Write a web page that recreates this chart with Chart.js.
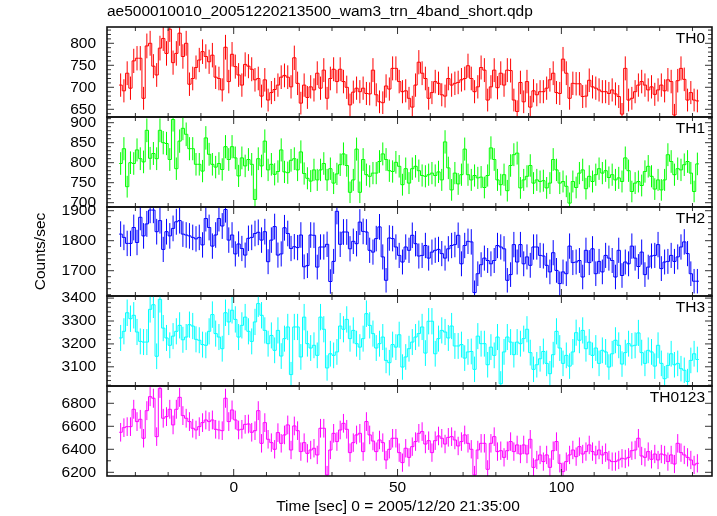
<!DOCTYPE html>
<html>
<head>
<meta charset="utf-8">
<title>ae500010010 wam3 trn 4band short</title>
<script src="https://cdn.jsdelivr.net/npm/chart.js@4.4.1/dist/chart.umd.min.js"></script>
<style>
  html, body { margin: 0; padding: 0; background: #fff; }
  #page { position: relative; width: 717px; height: 516px; overflow: hidden; }
  #page canvas { position: absolute; left: 0; }
  #xTitle {
    position: absolute; left: 198px; width: 400px; top: 497px;
    text-align: center; font: 15.5px "Liberation Sans", Arial, sans-serif; line-height: 18px; color: #000;
  }
</style>
</head>
<body>
<div id="page">
  <canvas id="p0" width="717" height="129" style="top:0px"></canvas>
  <canvas id="p1" width="717" height="114" style="top:105px"></canvas>
  <canvas id="p2" width="717" height="113" style="top:195px"></canvas>
  <canvas id="p3" width="717" height="114" style="top:284px"></canvas>
  <canvas id="p4" width="717" height="142" style="top:374px"></canvas>
  <div id="xTitle">Time [sec] 0 = 2005/12/20 21:35:00</div>
</div>
<script>
// 1 s bins, first bin starts at t = -35 s
const BIN_SEC = 1;
const T_START = -35;

const TH0 = [705,692,732,698,760,766,766,675,794,800,748,728,789,811,777,832,756,777,823,770,
  800,707,720,745,762,781,770,758,773,723,720,694,791,713,775,747,728,705,752,748,
  741,717,720,680,717,671,688,695,705,723,727,723,701,767,709,664,705,677,701,694,
  732,698,739,675,720,741,713,741,713,700,660,689,698,690,698,686,685,739,683,667,
  665,703,696,743,743,713,690,692,675,655,705,757,732,720,675,688,713,709,683,680,
  720,705,709,711,717,720,749,720,690,701,745,739,671,701,739,699,732,705,739,738,
  671,645,711,667,713,655,692,683,690,690,698,717,732,688,686,764,732,675,709,708,
  708,679,680,716,701,698,694,690,690,686,694,685,679,639,743,671,675,690,705,713,
  705,694,701,684,694,705,692,717,713,637,715,743,718,671,688,671,669];

const TH1 = [798,835,740,800,798,832,810,802,881,811,823,810,881,850,848,808,908,785,854,886,
  871,835,835,796,796,779,862,821,796,789,798,783,840,808,840,812,767,812,792,808,
  796,708,810,792,854,782,796,771,778,832,777,775,806,810,782,827,773,761,754,782,
  757,782,798,757,785,749,772,795,822,793,726,757,834,726,808,770,766,774,774,803,
  822,808,780,778,801,791,745,785,749,785,791,780,768,766,770,774,768,777,757,852,
  787,732,774,747,770,834,770,757,768,762,764,738,768,837,808,757,745,770,730,793,
  820,824,737,757,766,793,749,757,753,755,737,749,808,782,749,753,741,699,753,738,
  774,782,735,766,753,770,785,774,780,763,770,757,762,753,812,780,728,749,753,743,
  778,791,766,734,757,732,757,820,803,770,785,782,795,803,774,728,797];

const TH2 = [1822,1811,1791,1791,1844,1794,1878,1816,1856,1902,1902,1830,1867,1771,1830,1816,1841,1863,1867,1822,
  1819,1816,1811,1806,1811,1786,1874,1844,1782,1819,1874,1849,1904,1802,1819,1756,1789,1774,1752,1808,
  1811,1824,1828,1802,1830,1730,1802,1847,1752,1756,1843,1824,1774,1780,1777,1819,1713,1717,1819,1818,
  1712,1779,1779,1788,1664,1731,1898,1788,1829,1829,1773,1798,1790,1862,1831,1829,1768,1762,1807,1846,
  1746,1668,1809,1807,1779,1751,1729,1779,1768,1818,1790,1749,1751,1784,1742,1762,1768,1771,1757,1742,
  1773,1784,1787,1818,1723,1784,1798,1796,1627,1690,1720,1742,1734,1723,1734,1784,1779,1773,1668,1687,
  1787,1729,1787,1723,1746,1718,1779,1779,1751,1749,1718,1696,1760,1701,1657,1696,1690,1782,1727,1729,
  1734,1679,1768,1727,1773,1690,1731,1696,1751,1742,1734,1679,1768,1684,1729,1723,1782,1742,1714,1762,
  1687,1712,1749,1751,1787,1707,1729,1731,1751,1731,1746,1779,1796,1757,1690,1665,1665];

const TH3 = [3226,3255,3336,3310,3325,3252,3211,3208,3208,3351,3371,3146,3395,3269,3226,3194,3234,3255,3281,3218,
  3230,3284,3278,3220,3216,3197,3194,3255,3328,3245,3230,3179,3336,3296,3347,3307,3230,3281,3317,3255,
  3211,3296,3376,3325,3259,3201,3237,3172,3259,3147,3223,3274,3066,3274,3274,3143,3317,3201,3182,3194,
  3150,3317,3264,3095,3157,3150,3165,3278,3264,3307,3223,3259,3201,3186,3223,3332,3281,3245,3182,3201,
  3230,3128,3118,3197,3186,3240,3099,3143,3179,3208,3230,3245,3274,3160,3299,3299,3157,3223,3259,3252,
  3226,3278,3191,3191,3197,3138,3165,3167,3089,3234,3201,3201,3109,3186,3150,3230,3026,3165,3230,3208,
  3153,3208,3201,3223,3264,3162,3089,3109,3135,3167,3115,3070,3153,3255,3182,3115,3150,3103,3165,3249,
  3216,3259,3179,3208,3150,3182,3115,3172,3165,3099,3157,3216,3194,3112,3162,3201,3191,3194,3248,3162,
  3115,3172,3165,3103,3194,3115,3048,3106,3157,3109,3115,3092,3085,3036,3128,3157,3132];

const TH0123 = [6548,6588,6597,6597,6748,6641,6661,6496,6736,6858,6844,6510,6930,6670,6684,6748,6612,6748,6852,6693,
  6670,6641,6583,6568,6597,6632,6655,6641,6655,6574,6568,6562,6844,6641,6742,6655,6568,6574,6617,6620,
  6548,6562,6736,6452,6632,6487,6458,6400,6545,6452,6525,6612,6394,6603,6562,6380,6458,6365,6394,6409,
  6351,6583,6583,6177,6394,6539,6467,6568,6626,6574,6371,6458,6525,6539,6380,6641,6525,6472,6380,6481,
  6458,6307,6400,6496,6496,6371,6284,6409,6330,6423,6467,6539,6554,6446,6475,6371,6475,6516,6496,6446,
  6504,6510,6481,6429,6467,6525,6452,6400,6177,6394,6452,6452,6226,6452,6510,6380,6388,6330,6388,6467,
  6380,6438,6359,6438,6359,6487,6243,6307,6351,6293,6351,6243,6388,6467,6278,6206,6293,6351,6394,6336,
  6423,6359,6380,6438,6380,6351,6394,6351,6371,6307,6293,6293,6307,6322,6316,6330,6388,6394,6496,6342,
  6330,6380,6313,6359,6307,6359,6351,6293,6351,6272,6452,6371,6351,6330,6307,6264,6278];

const bandNames = ["TH0", "TH1", "TH2", "TH3", "TH0123"];
const bandRates = [TH0, TH1, TH2, TH3, TH0123];
const bandColors = ["#ff0000", "#00ff00", "#0000ff", "#00ffff", "#ff00ff"];

// axis ranges and tick steps per panel
const yMins = [632.5, 689.25, 1615.7, 3016.2, 6167.8];
const yMaxs = [837, 914.25, 1912.3, 3409.2, 6950.4];
const yMajor = [50, 50, 100, 100, 200];
const yMinor = [10, 10, 20, 20, 100];
const X_MIN = -38.66, X_MAX = 145.96;
const X_MAJOR = 50, X_MINOR = 10;

const binCenters = TH0.map((_, i) => T_START + (i + 0.5) * BIN_SEC);

Chart.defaults.font.family = '"Liberation Sans", Arial, Helvetica, sans-serif';
Chart.defaults.font.size = 15.5;
Chart.defaults.color = "#000";

function multiples(min, max, step) {
  const out = [];
  for (let v = Math.ceil(min / step) * step; v <= max; v += step) out.push(v);
  return out;
}

function histPoints(rates) {
  const pts = rates.map((v, i) => ({ x: binCenters[i], y: v }));
  // outer half bins, so first and last steps are a full bin wide
  pts.unshift({ x: T_START, y: rates[0] });
  pts.push({ x: T_START + rates.length * BIN_SEC, y: rates[rates.length - 1] });
  return pts;
}

// labels may spill over the panel edges, like in qdp
function noEdgePadding(s) {
  s.paddingTop = 0;
  s.paddingBottom = 0;
  s.paddingLeft = 0;
  s.paddingRight = 0;
}

function panelPlugin(k) {
  const rates = bandRates[k];
  return {
    id: "panel" + k,
    beforeDatasetsDraw(chart) {
      // poisson error bars for the 1 s bins
      const { ctx, chartArea: a, scales: { x, y } } = chart;
      ctx.save();
      ctx.beginPath();
      ctx.rect(a.left, a.top, a.width, a.height);
      ctx.clip();
      ctx.strokeStyle = bandColors[k];
      ctx.lineWidth = 1;
      ctx.beginPath();
      rates.forEach((v, i) => {
        const e = Math.sqrt(v * BIN_SEC) / BIN_SEC;
        const px = x.getPixelForValue(binCenters[i]);
        ctx.moveTo(px, y.getPixelForValue(v - e));
        ctx.lineTo(px, y.getPixelForValue(v + e));
      });
      ctx.stroke();
      ctx.restore();
    },
    afterDraw(chart) {
      const { ctx, chartArea: a, scales: { x, y } } = chart;
      ctx.save();
      // inward ticks on all four sides
      ctx.strokeStyle = "#333";
      ctx.lineWidth = 1;
      ctx.beginPath();
      multiples(x.min, x.max, X_MINOR).forEach(t => {
        const px = x.getPixelForValue(t);
        const len = t % X_MAJOR === 0 ? 7 : 4;
        ctx.moveTo(px, a.top); ctx.lineTo(px, a.top + len);
        ctx.moveTo(px, a.bottom); ctx.lineTo(px, a.bottom - len);
      });
      multiples(y.min, y.max, yMinor[k]).forEach(v => {
        const py = y.getPixelForValue(v);
        const len = v % yMajor[k] === 0 ? 7 : 4;
        ctx.moveTo(a.left, py); ctx.lineTo(a.left + len, py);
        ctx.moveTo(a.right, py); ctx.lineTo(a.right - len, py);
      });
      ctx.stroke();
      // frame
      ctx.strokeStyle = "#111";
      ctx.lineWidth = 1.6;
      ctx.strokeRect(a.left, a.top, a.width, a.height);
      // band name
      ctx.fillStyle = "#000";
      ctx.font = '15.5px "Liberation Sans", Arial, sans-serif';
      ctx.textAlign = "right";
      ctx.textBaseline = "alphabetic";
      ctx.fillText(bandNames[k], a.right - 7, a.top + 16);
      ctx.restore();
    }
  };
}

const padTops = [0, 12, 12, 12, 12];
const padBottoms = [12, 12, 12, 12, 0];

bandNames.forEach((name, k) => {
  const last = k === bandNames.length - 1;
  new Chart(document.getElementById("p" + k), {
    type: "line",
    data: {
      datasets: [{
        label: name,
        data: histPoints(bandRates[k]),
        borderColor: bandColors[k],
        borderWidth: 1,
        pointRadius: 0,
        stepped: "middle",
        fill: false
      }]
    },
    options: {
      responsive: false,
      animation: false,
      events: [],
      layout: { padding: { left: 0, right: 5, top: padTops[k], bottom: padBottoms[k] } },
      plugins: {
        legend: { display: false },
        tooltip: { enabled: false },
        title: {
          display: k === 0,
          text: "ae500010010_20051220213500_wam3_trn_4band_short.qdp",
          align: "start",
          fullSize: false,
          color: "#000",
          font: { size: 15.5, weight: "normal" },
          padding: { top: 2, bottom: 6.4 }
        }
      },
      scales: {
        x: {
          type: "linear",
          min: X_MIN,
          max: X_MAX,
          display: last,
          grid: { display: false, drawTicks: false },
          border: { display: false },
          ticks: { padding: 2, maxRotation: 0, autoSkip: false, callback: v => String(v) },
          afterBuildTicks: s => { s.ticks = multiples(s.min, s.max, X_MAJOR).map(v => ({ value: v })); },
          // only the bottom panel keeps room for the time axis labels
          afterFit: s => { s.height = last ? 40 : 0; noEdgePadding(s); }
        },
        y: {
          type: "linear",
          min: yMins[k],
          max: yMaxs[k],
          grid: { display: false, drawTicks: false },
          border: { display: false },
          ticks: { padding: 11, autoSkip: false, callback: v => String(v) },
          afterBuildTicks: s => { s.ticks = multiples(s.min, s.max, yMajor[k]).map(v => ({ value: v })); },
          title: {
            display: k === 2,
            text: "Counts/sec",
            color: "#000",
            font: { size: 15.5 },
            padding: { top: 31, bottom: 0 }
          },
          afterFit: s => { s.width = 107; noEdgePadding(s); }
        }
      }
    },
    plugins: [panelPlugin(k)]
  });
});
</script>
</body>
</html>
